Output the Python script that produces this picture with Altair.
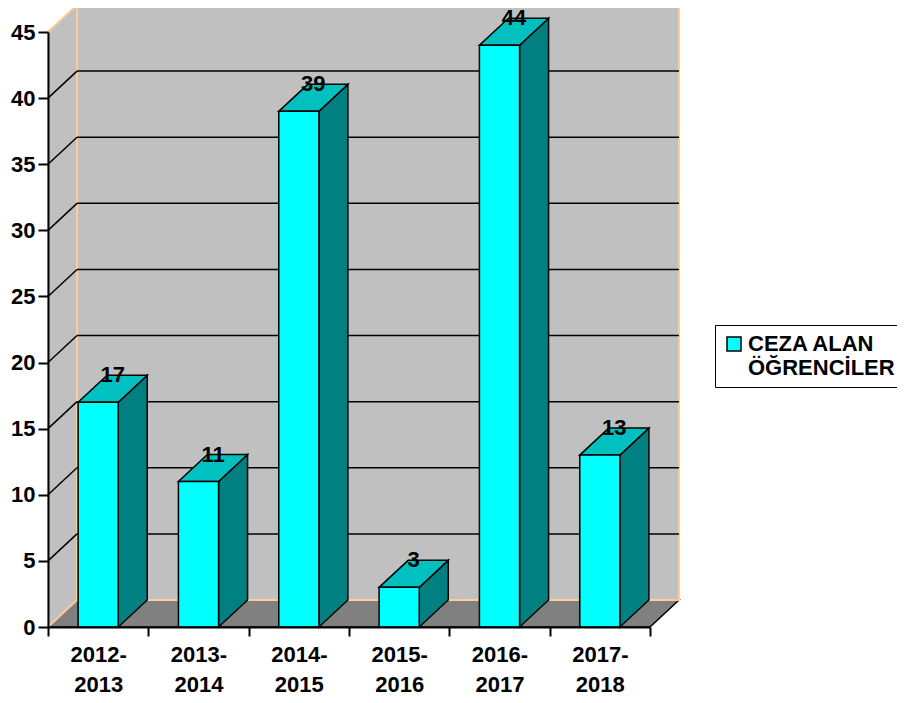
import json
import altair as alt
import pandas as pd

# ---- data ----
categories = ["2012-2013", "2013-2014", "2014-2015", "2015-2016", "2016-2017", "2017-2018"]
values = [17, 11, 39, 3, 44, 13]
series_lines = ["CEZA ALAN", "ÖĞRENCİLER"]
y_ticks = [0, 5, 10, 15, 20, 25, 30, 35, 40, 45]

# ---- layout / styling ----
FONT = "Liberation Sans"
N = len(categories)
YMAX = 45
W, H = 602, 595
DX = 29 / (W / N)        # depth offset in category units
DY = 27 / (H / YMAX)     # depth offset in value units
BL, BR = 0.3, 0.7        # bar front left/right inside a category
WALL = "#C0C0C0"
FLOOR = "#808080"
EDGE = "#FFCC99"
FRONT = "#00FFFF"
SIDE = "#008080"
TOP = "#00C0C0"

series_name = " ".join(series_lines)
label_lines = [c.replace("-", "-|").split("|") for c in categories]

xs = alt.Scale(domain=[0, N], nice=False, zero=False)
ys = alt.Scale(domain=[0, YMAX], nice=False, zero=False)

x_axis = alt.Axis(
    values=list(range(N + 1)), title=None, grid=False,
    domainColor="black", domainWidth=2, tickColor="black", tickWidth=2, tickSize=9,
    labelExpr=json.dumps(label_lines) + "[datum.value] || ''",
    labelOffset=W / N / 2, labelFlush=False, labelOverlap=False, labelBound=False,
    labelFont=FONT, labelFontSize=22, labelFontWeight="bold", labelColor="black",
    labelBaseline="top", labelLineHeight=30, labelPadding=8, zindex=1,
)
y_axis = alt.Axis(
    values=y_ticks, title=None, grid=False,
    domainColor="black", domainWidth=2, tickColor="black", tickWidth=2, tickSize=10,
    labelFont=FONT, labelFontSize=22, labelFontWeight="bold", labelColor="black",
    labelPadding=3, zindex=1,
)
X = alt.X("x:Q", scale=xs, axis=x_axis)
Y = alt.Y("y:Q", scale=ys, axis=y_axis)

# ---- frame geometry built from the scales' units ----
floor_df = pd.DataFrame({"y": [0, DY], "x": [0, DX], "x2": [N, N + DX]})
back_df = pd.DataFrame({"x": [DX], "x2": [N + DX], "y": [DY], "y2": [YMAX + DY]})
left_df = pd.DataFrame({"x": [0, DX], "y": [0, DY], "y2": [YMAX, YMAX + DY]})
grid_rows = []
for v in y_ticks[1:-1]:
    grid_rows.append({"x": DX, "x2": N + DX, "y": v + DY, "y2": v + DY})
    grid_rows.append({"x": 0, "x2": DX, "y": v, "y2": v + DY})
grid_df = pd.DataFrame(grid_rows)

front_df = pd.DataFrame({
    "x": [i + BL for i in range(N)], "x2": [i + BR for i in range(N)],
    "y": [0] * N, "y2": values, "series": [series_name] * N,
})
side_rows, top_rows = [], []
for i, v in enumerate(values):
    side_rows.append({"bar": i, "x": i + BR, "y": 0, "y2": v})
    side_rows.append({"bar": i, "x": i + BR + DX, "y": DY, "y2": v + DY})
    top_rows.append({"bar": i, "y": v, "x": i + BL, "x2": i + BR})
    top_rows.append({"bar": i, "y": v + DY, "x": i + BL + DX, "x2": i + BR + DX})
side_df = pd.DataFrame(side_rows)
top_df = pd.DataFrame(top_rows)
lab_df = pd.DataFrame({
    "x": [i + 0.5 + DX / 2 for i in range(N)],
    "y": [v + DY for v in values],
    "t": [str(v) for v in values],
})

floor = alt.Chart(floor_df).mark_area(
    orient="horizontal", fill=FLOOR, stroke="black", strokeWidth=1.5
).encode(y=Y, x=X, x2="x2:Q")
back = alt.Chart(back_df).mark_rect(fill=WALL, stroke=EDGE, strokeWidth=2).encode(
    x=X, x2="x2:Q", y=Y, y2="y2:Q")
left = alt.Chart(left_df).mark_area(
    orient="vertical", fill=WALL, stroke=EDGE, strokeWidth=2
).encode(x=X, y=Y, y2="y2:Q")
grid = alt.Chart(grid_df).mark_rule(color="black", strokeWidth=1.5).encode(
    x=X, x2="x2:Q", y=Y, y2="y2:Q")
side = alt.Chart(side_df).mark_area(
    orient="vertical", fill=SIDE, stroke="black", strokeWidth=1.5
).encode(x=X, y=Y, y2="y2:Q", detail="bar:N")
top = alt.Chart(top_df).mark_area(
    orient="horizontal", fill=TOP, stroke="black", strokeWidth=1.5
).encode(y=Y, x=X, x2="x2:Q", detail="bar:N")
front = alt.Chart(front_df).mark_rect(stroke="black", strokeWidth=1.5).encode(
    x=X, x2="x2:Q", y=Y, y2="y2:Q",
    color=alt.Color(
        "series:N",
        scale=alt.Scale(domain=[series_name], range=[FRONT]),
        legend=alt.Legend(
            orient="none", legendX=667, legendY=293, title=None,
            labelExpr=json.dumps(series_lines, ensure_ascii=False),
            labelFont=FONT, labelFontSize=22, labelFontWeight="bold", labelColor="black",
            labelLimit=0, labelOffset=3, labelBaseline="middle",
            symbolType="square", symbolSize=196, symbolStrokeColor="black",
            symbolStrokeWidth=1.5, symbolFillColor=FRONT,
            strokeColor="black", padding=8, fillColor="white",
        ),
    ),
)
labels = alt.Chart(lab_df).mark_text(
    font=FONT, fontSize=22, fontWeight="bold", color="black", baseline="middle"
).encode(x=X, y=Y, text="t:N")

chart = alt.layer(floor, back, left, grid, side, top, front, labels).properties(
    width=W, height=H,
    padding={"left": 40, "top": 24, "right": 247, "bottom": 68},
    autosize=alt.AutoSizeParams(type="none"),
).configure_view(stroke=None).configure(font=FONT, background="white")

chart.save("out.html", embed_options={"renderer": "svg", "actions": False})
